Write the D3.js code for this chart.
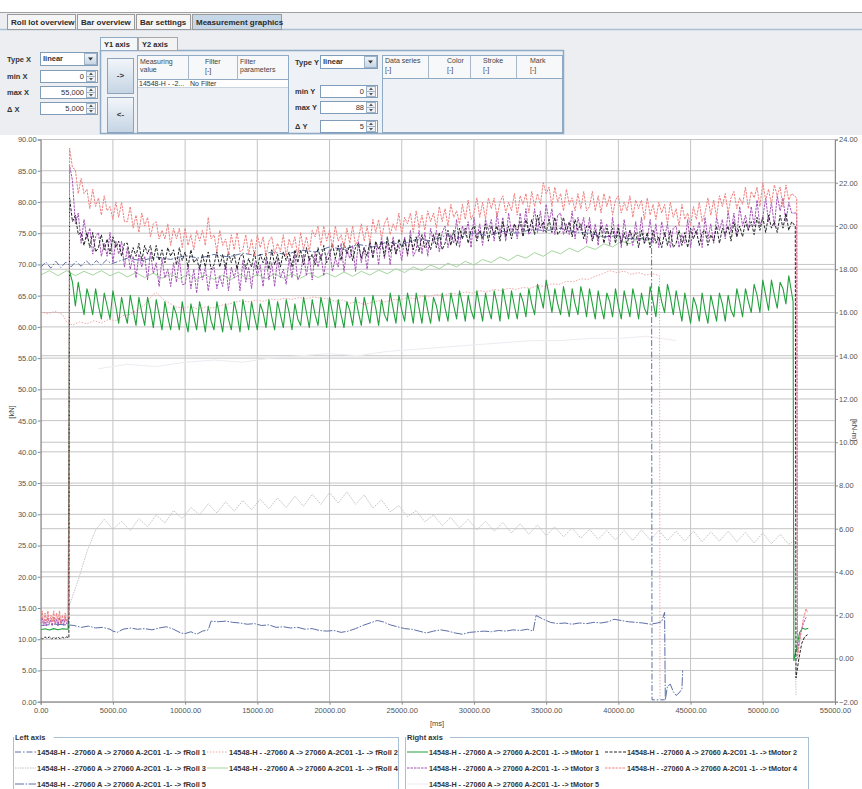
<!DOCTYPE html>
<html>
<head>
<meta charset="utf-8">
<script src="https://cdn.jsdelivr.net/npm/d3@7"></script>
<style>
  body { margin: 0; background: #fff; }
  svg { display: block; font-family: "Liberation Sans", Arial, sans-serif; }
</style>
</head>
<body>
<svg id="chart" width="862" height="789"></svg>
<script>
// ---------- data ----------
const tabNames = ["Roll lot overview", "Bar overview", "Bar settings", "Measurement graphics"];
const xTicks = [0, 5000, 10000, 15000, 20000, 25000, 30000, 35000, 40000, 45000, 50000, 55000];
const leftTicks = [0, 5, 10, 15, 20, 25, 30, 35, 40, 45, 50, 55, 60, 65, 70, 75, 80, 85, 90];
const rightTicks = [-2, 0, 2, 4, 6, 8, 10, 12, 14, 16, 18, 20, 22, 24];
const seriesPrefix = "14548-H - -27060 A -> 27060 A-2C01  -1- -> ";

// motor torques [kN-m], sampled every 200 ms from 2000 ms to 52000 ms (one row = 2 s)
const motorT0 = 2000, motorDt = 200;
const tMotor1 = [
  17.9, 17.4, 16.3, 17.4, 16.6, 15.9, 17.1, 16.6, 15.9, 17.1,
  16.3, 15.7, 16.9, 16.3, 15.7, 17.0, 16.3, 15.5, 16.7, 16.0,
  15.5, 16.8, 16.1, 15.4, 16.7, 16.0, 15.4, 16.7, 16.1, 15.3,
  16.6, 15.9, 15.2, 16.5, 15.8, 15.2, 16.3, 15.9, 15.2, 16.5,
  15.7, 15.1, 16.4, 15.8, 15.2, 16.5, 15.9, 15.1, 16.3, 15.6,
  15.2, 16.5, 15.8, 15.1, 16.4, 15.7, 15.2, 16.5, 15.9, 15.1,
  16.6, 15.9, 15.2, 16.5, 15.8, 15.2, 16.4, 16.0, 15.3, 16.6,
  15.8, 15.2, 16.5, 15.9, 15.3, 16.6, 16.0, 15.2, 16.4, 15.7,
  15.4, 16.7, 16.0, 15.3, 16.6, 15.9, 15.4, 16.7, 16.1, 15.3,
  16.7, 16.0, 15.3, 16.6, 15.9, 15.3, 16.5, 16.1, 15.4, 16.7,
  16.0, 15.4, 16.7, 16.1, 15.5, 16.8, 16.2, 15.4, 16.6, 15.9,
  15.6, 16.9, 16.2, 15.5, 16.8, 16.1, 15.6, 16.9, 16.3, 15.5,
  16.9, 16.2, 15.5, 16.8, 16.1, 15.5, 16.7, 16.3, 15.6, 16.9,
  16.2, 15.6, 16.9, 16.3, 15.7, 17.0, 16.4, 15.6, 16.8, 16.1,
  15.7, 17.0, 16.3, 15.6, 16.9, 16.2, 15.7, 17.0, 16.4, 15.6,
  17.1, 16.4, 15.7, 17.0, 16.3, 15.7, 16.9, 16.5, 15.8, 17.1,
  16.4, 15.9, 17.3, 16.8, 16.2, 17.5, 16.8, 16.0, 17.1, 16.4,
  15.9, 17.2, 16.5, 15.8, 17.1, 16.4, 15.9, 17.2, 16.6, 15.8,
  17.1, 16.4, 15.7, 17.0, 16.3, 15.7, 16.9, 16.5, 15.8, 17.1,
  16.3, 15.7, 17.0, 16.4, 15.8, 17.1, 16.5, 15.7, 16.9, 16.2,
  15.9, 17.2, 16.5, 15.8, 17.2, 16.5, 16.0, 17.3, 16.7, 15.9,
  17.0, 16.3, 15.6, 16.9, 16.2, 15.5, 16.7, 16.3, 15.6, 16.9,
  16.1, 15.5, 16.8, 16.2, 15.6, 16.9, 16.4, 15.6, 16.8, 16.1,
  15.8, 17.1, 16.5, 15.8, 17.1, 16.5, 16.0, 17.3, 16.8, 16.0,
  17.5, 16.8, 16.1, 17.5, 16.8, 16.2, 17.4, 17.1, 16.4, 17.7,
  16.9];
const tMotor2 = [
  21.3, 20.2, 20.5, 19.6, 19.7, 19.1, 19.7, 19.0, 19.7, 18.8,
  19.0, 19.6, 18.9, 19.4, 18.7, 19.5, 19.0, 19.3, 18.6, 19.2,
  19.2, 18.5, 19.0, 18.6, 19.2, 18.4, 19.1, 18.7, 19.1, 18.4,
  19.1, 18.4, 18.9, 18.3, 19.0, 18.6, 18.9, 18.2, 19.0, 18.4,
  18.8, 18.1, 18.9, 18.3, 18.5, 18.0, 18.7, 18.1, 18.8, 18.0,
  18.2, 18.8, 18.1, 18.7, 18.0, 18.8, 18.3, 18.7, 18.0, 18.6,
  18.7, 18.0, 18.5, 18.1, 18.8, 18.0, 18.7, 18.3, 18.7, 18.0,
  18.9, 18.2, 18.7, 18.1, 18.8, 18.4, 18.8, 18.1, 18.9, 18.3,
  18.9, 18.2, 19.0, 18.4, 18.7, 18.2, 19.0, 18.4, 19.1, 18.3,
  18.6, 19.2, 18.5, 19.1, 18.4, 19.2, 18.7, 19.1, 18.4, 19.0,
  19.2, 18.5, 19.0, 18.6, 19.3, 18.5, 19.3, 18.9, 19.3, 18.6,
  19.5, 18.8, 19.3, 18.7, 19.4, 19.0, 19.4, 18.7, 19.5, 18.9,
  19.5, 18.8, 19.6, 19.0, 19.3, 18.9, 19.6, 19.0, 19.7, 18.9,
  19.2, 19.8, 19.1, 19.8, 19.1, 19.9, 19.4, 19.9, 19.2, 19.8,
  20.0, 19.3, 19.8, 19.4, 20.1, 19.3, 20.0, 19.6, 20.0, 19.3,
  20.2, 19.5, 20.0, 19.4, 20.1, 19.8, 20.2, 19.5, 20.3, 19.7,
  20.3, 19.6, 20.5, 19.9, 20.2, 19.7, 20.3, 19.7, 20.4, 19.6,
  19.8, 20.4, 19.7, 20.2, 19.5, 20.3, 19.8, 20.1, 19.4, 20.0,
  20.0, 19.3, 19.8, 19.4, 20.0, 19.2, 19.9, 19.5, 19.9, 19.2,
  19.9, 19.2, 19.7, 19.1, 19.8, 19.4, 19.7, 19.0, 19.8, 19.2,
  19.7, 19.0, 19.8, 19.2, 19.5, 19.0, 19.7, 19.1, 19.8, 19.0,
  19.2, 19.8, 19.1, 19.7, 19.0, 19.9, 19.4, 19.8, 19.1, 19.7,
  19.8, 19.1, 19.6, 19.3, 20.0, 19.2, 19.9, 19.6, 20.0, 19.3,
  20.2, 19.5, 20.0, 19.5, 20.2, 19.8, 20.2, 19.6, 20.4, 19.8,
  20.4, 19.7, 20.5, 19.9, 20.2, 19.7, 20.5, 19.9, 20.6, 19.8,
  20.2];
const tMotor3 = [
  22.8, 22.1, 20.1, 20.6, 19.2, 20.3, 19.4, 19.9, 18.7, 19.5,
  19.7, 18.6, 19.2, 18.6, 19.7, 18.3, 19.3, 18.7, 19.3, 18.1,
  19.0, 18.0, 18.6, 17.6, 18.7, 18.1, 18.6, 17.5, 18.8, 17.8,
  18.3, 17.2, 18.5, 17.6, 18.0, 17.2, 18.3, 17.4, 18.5, 17.3,
  17.3, 18.2, 17.1, 18.0, 16.9, 18.2, 17.5, 18.1, 17.0, 17.9,
  18.1, 17.1, 17.7, 17.2, 18.3, 17.0, 18.1, 17.6, 18.2, 17.0,
  18.4, 17.4, 18.1, 17.1, 18.3, 17.7, 18.2, 17.2, 18.5, 17.5,
  18.3, 17.2, 18.5, 17.6, 18.0, 17.3, 18.5, 17.6, 18.7, 17.5,
  17.8, 18.7, 17.7, 18.6, 17.5, 18.8, 18.1, 18.7, 17.7, 18.6,
  18.9, 17.9, 18.5, 18.1, 19.2, 17.9, 18.9, 18.5, 19.1, 17.9,
  19.3, 18.3, 19.0, 18.0, 19.2, 18.7, 19.2, 18.2, 19.5, 18.5,
  19.3, 18.2, 19.5, 18.7, 19.1, 18.4, 19.5, 18.6, 19.8, 18.6,
  18.9, 19.8, 18.7, 19.7, 18.6, 19.9, 19.2, 19.8, 18.8, 19.7,
  20.0, 19.0, 19.6, 19.2, 20.3, 19.0, 20.0, 19.6, 20.2, 19.0,
  20.4, 19.4, 20.1, 19.1, 20.3, 19.8, 20.3, 19.3, 20.6, 19.6,
  20.4, 19.3, 20.6, 19.7, 20.1, 19.4, 20.6, 19.7, 20.8, 19.6,
  19.8, 20.8, 19.7, 20.7, 19.7, 21.0, 20.2, 20.8, 19.6, 20.5,
  20.6, 19.6, 20.1, 19.6, 20.7, 19.4, 20.4, 19.8, 20.4, 19.2,
  20.4, 19.4, 20.1, 19.1, 20.3, 19.7, 20.1, 19.1, 20.4, 19.4,
  20.1, 19.0, 20.3, 19.4, 19.8, 19.1, 20.2, 19.3, 20.4, 19.2,
  19.4, 20.3, 19.2, 20.1, 19.0, 20.2, 19.5, 20.1, 19.0, 19.9,
  20.0, 19.0, 19.6, 19.2, 20.3, 19.0, 20.0, 19.6, 20.2, 19.0,
  20.4, 19.4, 20.1, 19.2, 20.4, 19.8, 20.3, 19.4, 20.7, 19.7,
  20.6, 19.5, 20.9, 20.0, 20.5, 19.8, 20.9, 20.0, 21.2, 20.0,
  20.4, 21.3, 20.2, 21.1, 20.0, 21.4, 20.7, 21.3, 20.2, 21.1,
  20.6];
const tMotor4 = [
  23.6, 22.7, 22.6, 21.5, 22.2, 21.5, 21.7, 20.8, 21.7, 20.9,
  21.3, 20.5, 21.4, 20.7, 20.9, 20.3, 21.1, 20.4, 21.1, 20.2,
  20.2, 20.9, 19.9, 20.5, 19.7, 20.6, 20.0, 20.4, 19.5, 20.1,
  20.2, 19.4, 19.8, 19.4, 20.1, 19.1, 19.9, 19.4, 19.9, 19.0,
  19.9, 19.1, 19.6, 18.9, 19.8, 19.3, 19.8, 19.1, 20.4, 19.4,
  19.6, 18.8, 19.8, 19.1, 19.4, 18.7, 19.6, 18.9, 19.7, 18.8,
  18.9, 19.6, 18.7, 19.4, 18.6, 19.6, 19.0, 19.5, 18.6, 19.3,
  19.5, 18.7, 19.2, 18.8, 19.6, 18.6, 19.4, 19.0, 19.5, 18.6,
  19.7, 18.9, 19.5, 18.8, 19.8, 19.5, 20.0, 19.1, 20.0, 19.3,
  19.8, 19.0, 20.0, 19.3, 19.6, 19.0, 19.9, 19.2, 20.0, 19.1,
  19.4, 20.1, 19.3, 20.0, 19.2, 20.3, 19.7, 20.3, 19.4, 20.1,
  20.4, 19.6, 20.1, 19.8, 20.6, 19.6, 20.4, 20.1, 20.6, 19.7,
  20.7, 19.9, 20.5, 19.8, 20.7, 20.2, 20.6, 19.9, 20.9, 20.2,
  20.8, 20.0, 21.0, 20.4, 20.7, 20.1, 21.0, 20.3, 21.2, 20.3,
  20.6, 21.3, 20.4, 21.1, 20.3, 21.3, 20.8, 21.3, 20.4, 21.1,
  21.4, 20.6, 21.1, 20.7, 21.5, 20.5, 21.4, 21.0, 21.5, 20.6,
  21.6, 20.9, 21.5, 21.0, 22.0, 21.5, 21.8, 20.9, 21.8, 21.1,
  21.5, 20.7, 21.7, 21.0, 21.3, 20.7, 21.5, 20.8, 21.6, 20.7,
  20.9, 21.6, 20.7, 21.4, 20.6, 21.5, 20.9, 21.4, 20.5, 21.2,
  21.4, 20.6, 21.1, 20.7, 21.4, 20.4, 21.2, 20.8, 21.2, 20.3,
  21.3, 20.5, 21.0, 20.3, 21.1, 20.6, 21.0, 20.1, 21.1, 20.4,
  20.8, 20.0, 21.0, 20.3, 20.6, 20.0, 20.9, 20.3, 21.1, 20.2,
  20.6, 21.3, 20.5, 21.2, 20.4, 21.4, 20.9, 21.5, 20.6, 21.3,
  21.6, 20.8, 21.3, 21.0, 21.8, 20.8, 21.6, 21.3, 21.8, 20.9,
  22.0, 21.2, 21.7, 21.0, 21.9, 21.4, 21.8, 20.9, 21.9, 21.2,
  21.5];
const tMotor5 = [[4000, 13.4], [6000, 13.6], [8000, 13.5], [10000, 13.7], [12000, 13.8], [14000, 13.7],
  [16000, 13.9], [18000, 14.0], [20000, 14.1], [22000, 14.0], [24000, 14.2], [26000, 14.3], [28000, 14.4],
  [30000, 14.5], [32000, 14.6], [34000, 14.7], [36000, 14.7], [38000, 14.8], [40000, 14.8], [42000, 14.9], [44000, 14.7]];

// idle torque before the bar enters and after it leaves [ms, kN-m]
const tMotor1Idle = [[0, 1.33], [300, 1.37], [600, 1.32], [900, 1.38], [1200, 1.33], [1500, 1.37], [1900, 1.35]];
const tMotor2Idle = [[0, 0.95], [150, 0.9], [300, 1.0], [450, 0.92], [600, 1.0], [750, 0.9], [900, 0.98],
  [1050, 0.92], [1200, 1.0], [1350, 0.9], [1500, 0.98], [1650, 0.93], [1800, 1.0], [1950, 0.95]];
const tMotor3Idle = [[0, 1.6], [100, 1.9], [200, 1.5], [300, 1.8], [400, 1.5], [500, 1.9], [600, 1.6], [700, 1.8],
  [800, 1.5], [900, 1.9], [1000, 1.6], [1100, 1.8], [1200, 1.5], [1300, 1.9], [1400, 1.6], [1500, 1.8],
  [1600, 1.5], [1700, 1.9], [1800, 1.6], [1950, 1.8]];
const tMotor4Idle = [[0, 1.8], [100, 2.2], [200, 1.6], [300, 2.1], [400, 1.7], [500, 2.2], [600, 1.6], [700, 2.0],
  [800, 1.7], [900, 2.2], [1000, 1.6], [1100, 2.1], [1200, 1.7], [1300, 2.2], [1400, 1.6], [1500, 2.0],
  [1600, 1.7], [1700, 2.1], [1800, 1.7], [1950, 2.0]];
const tMotor1End = [[52100, 16.5], [52150, -0.1], [52350, 0.5], [52550, 1.2], [52750, 1.4], [52950, 1.35], [53150, 1.4]];
const tMotor2End = [[52250, 20.0], [52300, -0.9], [52500, 0.0], [52700, 0.7], [52900, 1.0], [53100, 1.1]];
const tMotor3End = [[52350, 20.6], [52400, 0.3], [52600, 1.1], [52800, 1.6], [53000, 1.9]];
const tMotor4End = [[52350, 21.3], [52400, 0.0], [52600, 1.0], [52800, 1.8], [53000, 2.3], [53100, 2.1]];

// roll forces [kN]
const fRoll1 = [[0, 69.5], [350, 70.4], [700, 69.4], [1050, 70.5], [1400, 69.5], [1750, 70.4], [2100, 69.6],
  [2450, 70.5], [2800, 69.7], [3150, 70.6], [3500, 69.8], [3850, 70.6], [4200, 69.9], [4550, 70.7], [4900, 70.1],
  [6000, 71.0], [7000, 70.6], [8000, 71.2], [9000, 70.8], [10000, 71.4], [11000, 71.0], [12000, 71.6], [13000, 71.2],
  [14000, 71.8], [15000, 71.4], [16000, 72.0], [17000, 71.6], [18000, 72.3], [19000, 72.0], [20000, 72.8],
  [21000, 72.4], [22000, 73.2], [23000, 72.8], [24000, 73.6], [25000, 73.2], [26000, 74.0], [27000, 73.8],
  [28000, 74.6], [29000, 74.3], [30000, 75.0], [31000, 74.6], [32000, 75.3], [33000, 75.0], [34000, 75.6],
  [35000, 75.4], [36000, 75.8], [37000, 75.2], [38000, 75.0], [39000, 74.4], [40000, 74.6], [41000, 74.0],
  [42000, 74.3], [42300, 74.0], [42330, 0.3], [43200, 0.3]];
const fRoll2 = [[0, 62.4], [500, 62.1], [1000, 62.5], [1500, 62.0], [1800, 60.8], [2200, 60.3], [2700, 60.8],
  [3200, 60.5], [3700, 61.0], [4200, 60.6], [4700, 61.2], [5200, 61.0], [5700, 61.8], [6200, 62.0], [6700, 62.8],
  [7200, 63.5], [7700, 65.0], [8000, 65.5], [8400, 64.6], [8900, 63.8], [9400, 63.2], [9900, 63.0], [10400, 63.3],
  [10900, 62.8], [11400, 63.2], [11900, 63.0], [12400, 63.4], [12900, 63.6], [13400, 63.9], [13900, 64.2],
  [14400, 64.0], [14900, 64.3], [15400, 64.1], [15900, 64.5], [16400, 64.3], [16900, 64.6], [17400, 64.4],
  [17900, 64.7], [18400, 64.5], [18900, 64.8], [19400, 64.6], [19900, 64.5], [20400, 64.1], [20900, 64.3],
  [21400, 63.8], [21900, 64.0], [22400, 63.6], [22900, 63.9], [23400, 64.2], [23900, 64.0], [24400, 64.4],
  [24900, 64.3], [25400, 64.7], [25900, 64.5], [26400, 64.9], [26900, 64.8], [27400, 65.2], [27900, 65.0],
  [28400, 65.4], [28900, 65.2], [29400, 65.6], [29900, 65.4], [30400, 65.8], [30900, 65.6], [31400, 66.0],
  [31900, 65.8], [32400, 66.2], [32900, 66.0], [33400, 66.3], [33900, 66.2], [34400, 66.6], [34900, 66.5],
  [35400, 66.9], [35900, 66.8], [36400, 67.3], [36900, 67.2], [37400, 67.7], [37900, 67.6], [38400, 68.1],
  [38900, 68.5], [39400, 69.0], [39900, 68.7], [40400, 68.9], [40900, 68.4], [41400, 68.7], [41900, 68.3],
  [42400, 68.5], [42850, 68.2], [42880, 0.5]];
// fRoll 3 sampled every 600 ms from 2000 ms
const fRoll3T0 = 2000, fRoll3Dt = 600;
const fRoll3 = [
  15.5, 19.5, 24.0, 27.5, 29.2, 27.6, 28.9, 27.4, 29.3, 28.0,
  29.9, 28.6, 30.6, 29.3, 31.1, 29.9, 31.7, 30.2, 32.0, 30.5,
  32.2, 30.7, 32.4, 30.9, 32.6, 31.1, 32.9, 31.3, 33.2, 31.6,
  33.5, 31.8, 33.6, 31.6, 33.1, 31.0, 32.3, 30.4, 31.4, 29.6,
  30.6, 28.8, 29.9, 28.2, 29.5, 27.8, 29.2, 27.5, 28.9, 27.3,
  28.7, 27.0, 28.5, 26.8, 28.3, 26.6, 28.0, 26.4, 27.8, 26.2,
  27.6, 26.0, 27.4, 25.9, 27.4, 25.8, 27.5, 25.9, 27.4, 25.8,
  27.3, 25.7, 27.3, 25.6, 27.2, 25.7, 27.3, 25.6, 27.1, 25.4,
  27.0, 25.3, 26.8, 25.2];
const fRoll3Start = [[1900, 14.7]];
const fRoll3End = [[52200, 25.8], [52300, 1.0]];
// fRoll 4 sampled every 600 ms from 0 ms
const fRoll4T0 = 0, fRoll4Dt = 600;
const fRoll4 = [
  68.3, 69.0, 68.2, 69.0, 68.2, 68.9, 68.3, 69.0, 68.2, 68.8,
  68.0, 68.7, 67.9, 68.6, 67.8, 68.5, 67.7, 68.4, 67.6, 68.3,
  67.6, 68.3, 67.6, 68.4, 67.7, 68.4, 67.7, 68.5, 67.8, 68.5,
  67.8, 68.6, 67.9, 68.6, 68.0, 68.8, 68.1, 68.9, 68.3, 69.1,
  68.5, 69.3, 68.7, 69.6, 69.0, 69.9, 69.3, 70.2, 69.6, 70.5,
  69.9, 70.8, 70.3, 71.2, 70.6, 71.5, 71.0, 71.9, 71.3, 72.2,
  71.7, 72.6, 72.0, 72.9, 72.4, 73.3, 72.8, 73.7, 73.3, 74.2,
  73.8, 74.5];
const fRoll5 = [[0, 12.2], [1000, 12.4], [1900, 12.3], [2300, 12.2], [2800, 11.9], [3300, 12.1], [3800, 11.8],
  [4300, 11.9], [4800, 11.6], [5000, 11.3], [5300, 11.1], [5700, 11.6], [6200, 11.8], [6700, 11.6], [7200, 11.7],
  [7700, 11.5], [8200, 11.8], [8700, 12.0], [9200, 11.6], [9700, 11.0], [10000, 10.9], [10400, 11.2], [10800, 10.8],
  [11200, 11.3], [11600, 11.5], [11800, 12.9], [12300, 12.8], [12800, 12.9], [13300, 12.7], [13800, 12.6],
  [14300, 12.4], [14800, 12.5], [15300, 12.2], [15800, 12.3], [16300, 11.9], [16800, 12.0], [17300, 11.8],
  [17800, 11.9], [18300, 11.6], [18800, 11.7], [19300, 11.4], [19800, 11.3], [20300, 11.4], [20800, 11.1],
  [21300, 11.3], [21800, 11.7], [22300, 12.2], [22800, 12.6], [23300, 13.0], [23700, 12.8], [24200, 12.3],
  [24700, 12.0], [25200, 11.7], [25700, 11.6], [26200, 11.3], [26700, 11.0], [27200, 11.3], [27700, 11.5],
  [28200, 11.3], [28700, 11.0], [29200, 10.8], [29700, 11.1], [30200, 11.2], [30700, 11.3], [31200, 11.2],
  [31700, 11.4], [32200, 11.3], [32700, 11.5], [33200, 11.4], [33700, 11.6], [34100, 11.3], [34300, 13.8],
  [34800, 13.2], [35300, 12.7], [35800, 12.5], [36300, 12.6], [36800, 12.4], [37300, 12.6], [37800, 12.5],
  [38300, 12.7], [38800, 12.6], [39300, 12.8], [39700, 13.2], [40200, 13.0], [40700, 12.8], [41200, 12.7],
  [41700, 12.6], [42200, 12.4], [42700, 12.6], [43000, 12.8], [43200, 14.3], [43250, 0.3], [43400, 2.5],
  [43600, 2.8], [43800, 1.6], [44000, 1.0], [44200, 1.4], [44400, 2.0], [44450, 5.0]];

// ---------- helpers ----------
const sampled = (t0, dt, vals) => vals.map((v, i) => [t0 + i * dt, v]);

const svg = d3.select('#chart');
const FONT = '"Liberation Sans", Arial, sans-serif';

function txt(g, x, y, s, size, opts) {
  opts = opts || {};
  const t = g.append('text').attr('x', x).attr('y', y).text(s)
    .attr('font-size', size)
    .attr('font-weight', opts.bold ? 'bold' : 'normal')
    .attr('fill', opts.color || '#333')
    .attr('text-anchor', opts.anchor || 'start');
  if (opts.len) t.attr('textLength', opts.len).attr('lengthAdjust', 'spacingAndGlyphs');
  return t;
}
function rect(g, x, y, w, h, fill, stroke) {
  return g.append('rect').attr('x', x).attr('y', y).attr('width', w).attr('height', h)
    .attr('fill', fill).attr('stroke', stroke || 'none').attr('stroke-width', 1);
}

const defs = svg.append('defs');
const btnGrad = defs.append('linearGradient').attr('id', 'btnGrad').attr('x1', 0).attr('y1', 0).attr('x2', 0).attr('y2', 1);
btnGrad.append('stop').attr('offset', '0%').attr('stop-color', '#f2f6fa');
btnGrad.append('stop').attr('offset', '100%').attr('stop-color', '#c5d4e3');

// ---------- top panel ----------
const ui = svg.append('g');
rect(ui, 0, 12, 862, 123, '#eceef1');
ui.append('line').attr('x1', 0).attr('x2', 862).attr('y1', 12.5).attr('y2', 12.5).attr('stroke', '#a0a0a0');
ui.append('line').attr('x1', 0).attr('x2', 862).attr('y1', 29.5).attr('y2', 29.5).attr('stroke', '#a9c0d6').attr('stroke-width', 1.5);

const tabX = [7, 77, 136, 192, 283];
tabNames.forEach((n, i) => {
  const sel = i === 3;
  rect(ui, tabX[i] + 0.5, 14.5, tabX[i + 1] - tabX[i] - 2, 15, sel ? '#c6d7e8' : '#f5f5f5', '#9a9a9a');
  txt(ui, tabX[i] + 4, 25, n, 8, { bold: true, color: '#2b2b2b' });
});

function combo(x, y, w, h, val) {
  rect(ui, x + 0.5, y + 0.5, w, h, '#fff', '#7f9db9');
  txt(ui, x + 3, y + h - 4, val, 7.5, { bold: true, color: '#333' });
  rect(ui, x + w - 12.5, y + 1.5, 12, h - 2, 'url(#btnGrad)', '#9fb3c8');
  ui.append('path').attr('d', `M${x + w - 9},${y + h / 2 - 1} l5,0 l-2.5,3 z`).attr('fill', '#333');
}
function spin(x, y, w, h, val) {
  rect(ui, x + 0.5, y + 0.5, w, h, '#fff', '#7f9db9');
  txt(ui, x + w - 13, y + h - 3, val, 7.5, { anchor: 'end', color: '#333' });
  rect(ui, x + w - 10.5, y + 1.5, 9, h / 2 - 1, '#eef2f6', '#9fb3c8');
  rect(ui, x + w - 10.5, y + h / 2 + 0.5, 9, h / 2 - 1, '#eef2f6', '#9fb3c8');
  ui.append('path').attr('d', `M${x + w - 8},${y + h / 2 - 1} l4,0 l-2,-2.5 z`).attr('fill', '#555');
  ui.append('path').attr('d', `M${x + w - 8},${y + h / 2 + 2} l4,0 l-2,2.5 z`).attr('fill', '#555');
}

txt(ui, 7, 62, 'Type X', 7.5, { bold: true });
combo(40, 52, 57, 13, 'linear');
txt(ui, 7, 79, 'min X', 7.5, { bold: true });
spin(40, 70, 57, 12, '0');
txt(ui, 7, 95, 'max X', 7.5, { bold: true });
spin(40, 86, 57, 12, '55,000');
txt(ui, 7, 112, '\u0394 X', 7.5, { bold: true });
spin(40, 102, 57, 12, '5,000');

// Y1 / Y2 sub tabs and the axis panel
rect(ui, 100.5, 50.5, 463, 83, '#eef1f5', '#8eaac5').attr('stroke-width', 1.5);
rect(ui, 100.5, 37.5, 37, 13, '#f4f7fa', '#8eaac5');
txt(ui, 104, 47, 'Y1 axis', 7.5, { bold: true, color: '#2b2b2b' });
rect(ui, 138.5, 37.5, 39, 13, '#f3f3f3', '#a8a8a8');
txt(ui, 142, 47, 'Y2 axis', 7.5, { bold: true, color: '#2b2b2b' });

rect(ui, 107.5, 58.5, 26, 35, 'url(#btnGrad)', '#8ca3bb');
txt(ui, 120.5, 78, '->', 8, { anchor: 'middle', bold: true, color: '#333' });
rect(ui, 107.5, 97.5, 26, 35, 'url(#btnGrad)', '#8ca3bb');
txt(ui, 120.5, 117, '<-', 8, { anchor: 'middle', bold: true, color: '#333' });

// measuring value table
rect(ui, 137.5, 55.5, 151, 77, '#eef1f5', '#8eaac5');
rect(ui, 137.5, 55.5, 151, 24, '#f6f8fa', '#8eaac5');
[188.5, 237.5].forEach(cx => ui.append('line').attr('x1', cx).attr('x2', cx).attr('y1', 56).attr('y2', 87).attr('stroke', '#a8b8c8'));
rect(ui, 138, 80, 150, 8, '#fff');
ui.append('line').attr('x1', 138).attr('x2', 288).attr('y1', 87.5).attr('y2', 87.5).attr('stroke', '#c8d4e0');
txt(ui, 140, 64, 'Measuring', 7, { color: '#444' });
txt(ui, 140, 72, 'value', 7, { color: '#444' });
txt(ui, 205, 64, 'Filter', 7, { color: '#444' });
txt(ui, 205, 73, '[-]', 7, { color: '#444' });
txt(ui, 240, 64, 'Filter', 7, { color: '#444' });
txt(ui, 240, 72, 'parameters', 7, { color: '#444' });
txt(ui, 139, 86, '14548-H - -2...', 7, { color: '#333' });
txt(ui, 190, 86, 'No Filter', 7, { color: '#333' });

txt(ui, 295, 65, 'Type Y', 7.5, { bold: true });
combo(320, 55, 57, 13, 'linear');
txt(ui, 295, 94, 'min Y', 7.5, { bold: true });
spin(320, 85, 57, 12, '0');
txt(ui, 295, 110, 'max Y', 7.5, { bold: true });
spin(320, 101, 57, 12, '88');
txt(ui, 295, 129, '\u0394 Y', 7.5, { bold: true });
spin(320, 120, 57, 12, '5');

// data series table
rect(ui, 382.5, 55.5, 180, 77, '#eef1f5', '#8eaac5');
rect(ui, 382.5, 55.5, 180, 23, '#f6f8fa', '#8eaac5');
[428.5, 470.5, 516.5].forEach(cx => ui.append('line').attr('x1', cx).attr('x2', cx).attr('y1', 56).attr('y2', 78).attr('stroke', '#a8b8c8'));
[['Data series', 385], ['Color', 447], ['Stroke', 483], ['Mark', 530]].forEach(h => {
  txt(ui, h[1], 63, h[0], 7, { color: '#444' });
  txt(ui, h[1], 72, '[-]', 7, { color: '#444' });
});

// ---------- chart ----------
const x = d3.scaleLinear().domain([0, 55000]).range([40.7, 835]);
const yL = d3.scaleLinear().domain([0, 90]).range([701.7, 139.5]);
const yR = d3.scaleLinear().domain([-2, 24]).range([701.7, 139.5]);

const plot = svg.append('g');
rect(plot, 40.7, 139.5, 794.3, 562.2, '#fff');

const grid = plot.append('g').attr('stroke', '#c4c4c4').attr('stroke-width', 1);
grid.selectAll('.gx').data(xTicks).join('line')
  .attr('x1', d => x(d)).attr('x2', d => x(d)).attr('y1', 139.5).attr('y2', 701.7);
grid.selectAll('.gl').data(leftTicks).join('line').attr('class', 'gl')
  .attr('x1', 40.7).attr('x2', 835).attr('y1', d => yL(d)).attr('y2', d => yL(d));
grid.selectAll('.gr').data(rightTicks).join('line').attr('class', 'gr')
  .attr('x1', 40.7).attr('x2', 835).attr('y1', d => yR(d)).attr('y2', d => yR(d));

defs.append('clipPath').attr('id', 'plotClip').append('rect')
  .attr('x', 40.7).attr('y', 139.5).attr('width', 794.3).attr('height', 562.2);

const series = [
  { name: 'fRoll 3', axis: 'L', pts: fRoll3Start.concat(sampled(fRoll3T0, fRoll3Dt, fRoll3), fRoll3End), color: '#c4c4c4', dash: '1.5,1', w: 1 },
  { name: 'tMotor 5', axis: 'R', pts: tMotor5, color: '#efeaf1', dash: null, w: 1 },
  { name: 'fRoll 4', axis: 'L', pts: sampled(fRoll4T0, fRoll4Dt, fRoll4), color: '#a3d69d', dash: null, w: 1 },
  { name: 'fRoll 2', axis: 'L', pts: fRoll2, color: '#f2a7a7', dash: '1.5,1.5', w: 1 },
  { name: 'fRoll 1', axis: 'L', pts: fRoll1, color: '#5d6fa6', dash: '6,2,1.5,2', w: 1 },
  { name: 'fRoll 5', axis: 'L', pts: fRoll5, color: '#5d6fa6', dash: '9,1.5,1.5,1.5', w: 1 },
  { name: 'tMotor 1', axis: 'R', pts: tMotor1Idle.concat(sampled(motorT0, motorDt, tMotor1), tMotor1End), color: '#22a03c', dash: null, w: 1.1 },
  { name: 'tMotor 3', axis: 'R', pts: tMotor3Idle.concat(sampled(motorT0, motorDt, tMotor3), tMotor3End), color: '#a451b5', dash: '2.5,1', w: 1 },
  { name: 'tMotor 2', axis: 'R', pts: tMotor2Idle.concat(sampled(motorT0, motorDt, tMotor2), tMotor2End), color: '#222428', dash: '3,1.5', w: 1 },
  { name: 'tMotor 4', axis: 'R', pts: tMotor4Idle.concat(sampled(motorT0, motorDt, tMotor4), tMotor4End), color: '#ef8080', dash: '2.5,1', w: 1 }
];

const lines = plot.append('g').attr('clip-path', 'url(#plotClip)');
series.forEach(s => {
  const yS = s.axis === 'L' ? yL : yR;
  const gen = d3.line().x(d => x(d[0])).y(d => yS(d[1]));
  lines.append('path').attr('d', gen(s.pts))
    .attr('fill', 'none').attr('stroke', s.color).attr('stroke-width', s.w)
    .attr('stroke-dasharray', s.dash).attr('stroke-linejoin', 'round');
});

// axes
function styleAxis(g) {
  g.selectAll('path.domain').attr('stroke', '#8a8a8a');
  g.selectAll('.tick line').attr('stroke', '#8a8a8a');
  g.selectAll('text').attr('font-family', FONT).attr('font-size', 7.5).attr('fill', '#555');
}
const fmt = d3.format('.2f');
plot.append('g').attr('transform', 'translate(40.7,0)')
  .call(d3.axisLeft(yL).tickValues(leftTicks).tickFormat(fmt).tickSize(3).tickPadding(1))
  .call(styleAxis);
plot.append('g').attr('transform', 'translate(835,0)')
  .call(d3.axisRight(yR).tickValues(rightTicks).tickFormat(fmt).tickSize(3).tickPadding(1))
  .call(styleAxis);
plot.append('g').attr('transform', 'translate(0,701.7)')
  .call(d3.axisBottom(x).tickValues(xTicks).tickFormat(fmt).tickSize(3).tickPadding(3))
  .call(styleAxis);

txt(plot, 14, 412, '[kN]', 7.5, { color: '#444' }).attr('transform', 'rotate(-90,14,412)').attr('text-anchor', 'middle');
txt(plot, 852, 430, '[kN-m]', 7.5, { color: '#444' }).attr('transform', 'rotate(90,852,430)').attr('text-anchor', 'middle');
txt(plot, 430, 726, '[ms]', 7.5, { color: '#444' });

// ---------- legends ----------
const leg = svg.append('g');
const styleOf = n => series.find(s => s.name === n);
const legendBoxes = [
  { title: 'Left axis', x: 13, w: 385, names: ['fRoll 1', 'fRoll 2', 'fRoll 3', 'fRoll 4', 'fRoll 5'], cols: [15, 207], tw: 169 },
  { title: 'Right axis', x: 405, w: 403, names: ['tMotor 1', 'tMotor 2', 'tMotor 3', 'tMotor 4', 'tMotor 5'], cols: [407, 605], tw: 170 }
];
const rowY = [755, 771, 787];
legendBoxes.forEach(b => {
  rect(leg, b.x + 0.5, 737.5, b.w, 70, 'none', '#a9bfd4');
  rect(leg, b.x + 1, 733, b.title.length * 4.2 + 2, 8, '#fff');
  txt(leg, b.x + 2, 740, b.title, 7.5, { bold: true, color: '#333' });
  b.names.forEach((n, i) => {
    const cx = b.cols[i % 2], ry = rowY[Math.floor(i / 2)];
    const s = styleOf(n);
    leg.append('line').attr('x1', cx).attr('x2', cx + 21).attr('y1', ry - 3).attr('y2', ry - 3)
      .attr('stroke', s.color).attr('stroke-width', 1).attr('stroke-dasharray', s.dash);
    txt(leg, cx + 22, ry, seriesPrefix + n, 7.5, { bold: true, color: '#333', len: b.tw });
  });
});
</script>
</body>
</html>
